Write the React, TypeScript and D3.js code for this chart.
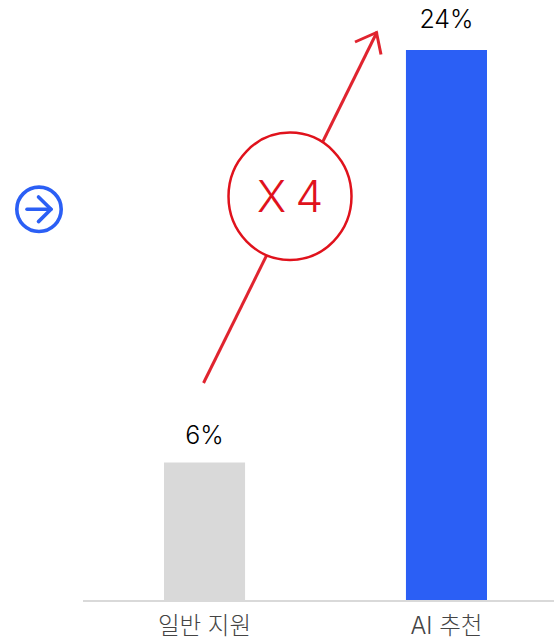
import React from "react";
import * as d3 from "d3";

const categories = ["일반 지원", "AI 추천"];
const values = [6, 24];
const valueLabels = ["6%", "24%"];
const barColors = ["#d9d9d9", "#2b5ff5"];
const multiplierLabel = "X 4";

const W = 554;
const H = 638;
const FONT = 'Inter, "Noto Sans CJK KR", sans-serif';

export default function App() {
  const x = d3.scaleBand<string>().domain(categories).range([164, 487]).paddingInner(0.665).paddingOuter(0);
  const y = d3.scaleLinear().domain([0, 24]).range([600, 50]);
  const line = d3.line();
  const cx0 = x(categories[0])! + x.bandwidth() / 2;
  return (
    <svg width={W} height={H} viewBox={`0 0 ${W} ${H}`} style={{ position: "fixed", left: 0, top: 0, display: "block", background: "#fff" }} fontFamily={FONT}>
      {categories.map((c, i) => (
        <g key={c}>
          <rect x={x(c)} y={y(values[i])} width={x.bandwidth()} height={y(0) - y(values[i])} fill={barColors[i]} />
          <text x={x(c)! + x.bandwidth() / 2} y={y(values[i]) - (i === 0 ? 19 : 22)} textAnchor="middle" fontSize={25} fontWeight={300} fill="#000">{valueLabels[i]}</text>
          <text x={x(c)! + x.bandwidth() / 2} y={633.5} textAnchor="middle" fontSize={23.5} fontWeight={300} fill="#444">{c}</text>
        </g>
      ))}
      <line x1={83} x2={554} y1={601} y2={601} stroke="#d9d9d9" strokeWidth={2} />
      <path d={line([[cx0 - 1, 383], [377, 32]])!} fill="none" stroke="#e0242f" strokeWidth={3} />
      <path d={line([[355, 42], [376.5, 32.5], [381, 54.5]])!} fill="none" stroke="#e0242f" strokeWidth={3} />
      <ellipse cx={290} cy={196.3} rx={61.5} ry={63.7} fill="#fff" stroke="#e0121c" strokeWidth={2.5} />
      <text x={290} y={212} textAnchor="middle" fontSize={44} fontWeight={300} wordSpacing={-3} fill="#e0121c">{multiplierLabel}</text>
      <circle cx={39} cy={209.3} r={22.2} fill="none" stroke="#2b5ff5" strokeWidth={3.6} />
      <path d={line([[27, 209.3], [51, 209.3]])!} fill="none" stroke="#2b5ff5" strokeWidth={3.6} strokeLinecap="round" />
      <path d={line([[38.5, 197], [51, 209.3], [38.5, 221.6]])!} fill="none" stroke="#2b5ff5" strokeWidth={3.6} strokeLinecap="round" strokeLinejoin="round" />
    </svg>
  );
}
